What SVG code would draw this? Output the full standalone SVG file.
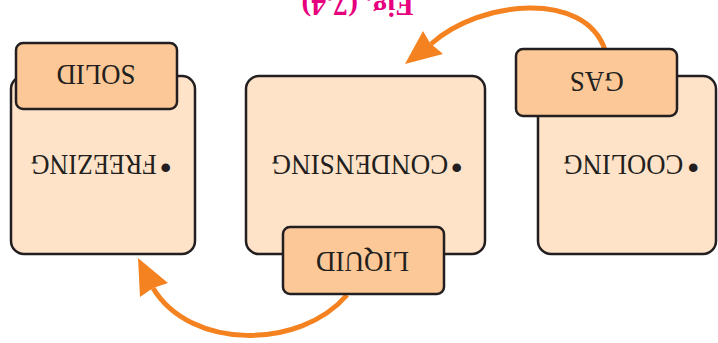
<svg xmlns="http://www.w3.org/2000/svg" width="718" height="343" viewBox="0 0 718 343">
<style>
.box{fill:#fee3c9;stroke:#231f20;stroke-width:2.5}
.tab{fill:#fdc897;stroke:#231f20;stroke-width:2.5}
.lbl{font-family:"Liberation Serif","Times New Roman",serif;fill:#231f20;font-size:30px}
.bul{font-size:36px}
.arrow{fill:none;stroke:#f58220;stroke-width:5}
.head{fill:#f58220}
.title{font-family:"Liberation Serif","Times New Roman",serif;fill:#e6007e;font-size:30px;font-weight:bold}
</style>
<rect width="718" height="343" fill="#ffffff"/>
<g id="connectors">
<path class="arrow" d="M605,50 C585,-10 480,0 431,44"/>
<polygon class="head" points="405,64 423,31 430,43 443,54"/>
<path class="arrow" d="M347,295 C300,350 190,350 153,288"/>
<polygon class="head" points="138,258 168,283 153,288 140,297"/>
</g>
<g id="freezing">
<rect class="box" x="11" y="76" width="184" height="178" rx="13"/>
<text class="lbl" transform="translate(172,155) rotate(180)"><tspan class="bul" x="0" y="0">•</tspan><tspan x="15.3" y="0" textLength="126" lengthAdjust="spacingAndGlyphs">FREEZING</tspan></text>
</g>
<g id="solid">
<rect class="tab" x="16" y="43" width="161" height="66" rx="7"/>
<text class="lbl" text-anchor="middle" transform="translate(96,65) rotate(180)" textLength="79" lengthAdjust="spacingAndGlyphs">SOLID</text>
</g>
<g id="condensing">
<rect class="box" x="246" y="76" width="239" height="178" rx="13"/>
<text class="lbl" transform="translate(463,155) rotate(180)"><tspan class="bul" x="0" y="0">•</tspan><tspan x="14.7" y="0" textLength="177" lengthAdjust="spacingAndGlyphs">CONDENSING</tspan></text>
</g>
<g id="liquid">
<rect class="tab" x="283" y="227" width="161" height="67" rx="7"/>
<text class="lbl" text-anchor="middle" transform="translate(362.5,252) rotate(180)" textLength="93" lengthAdjust="spacingAndGlyphs">LIQUID</text>
</g>
<g id="cooling">
<rect class="box" x="538" y="76" width="178" height="178" rx="13"/>
<text class="lbl" transform="translate(699.5,155) rotate(180)"><tspan class="bul" x="0" y="0">•</tspan><tspan x="16.2" y="0" textLength="120" lengthAdjust="spacingAndGlyphs">COOLING</tspan></text>
</g>
<g id="gas">
<rect class="tab" x="516" y="49" width="161" height="67" rx="7"/>
<text class="lbl" text-anchor="middle" transform="translate(596.7,71.7) rotate(180)" textLength="54" lengthAdjust="spacingAndGlyphs">GAS</text>
</g>
<g id="title">
<text class="title" text-anchor="middle" transform="translate(357.5,-4) rotate(180)" textLength="112" lengthAdjust="spacingAndGlyphs">Fig. (7.4)</text>
</g>
</svg>
